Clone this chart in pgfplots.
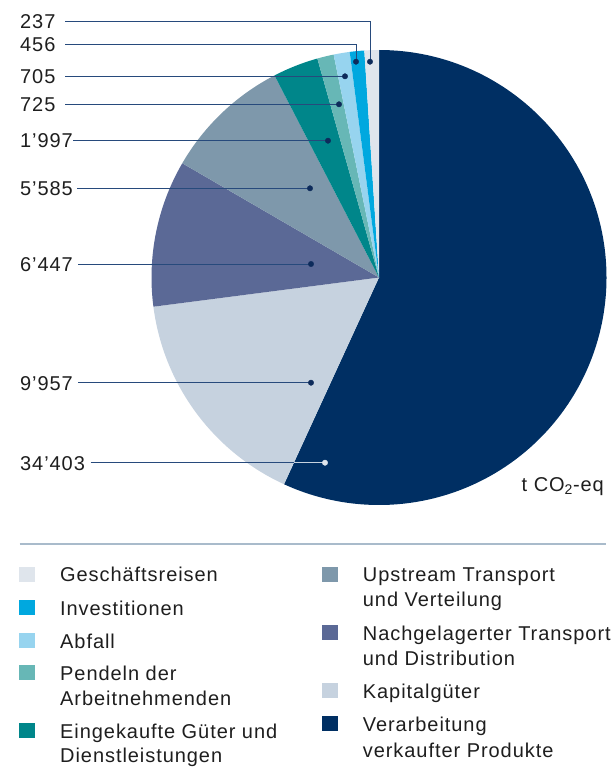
\documentclass[border=0pt]{standalone}
\usepackage{fontspec}
\setmainfont{Liberation Sans}[LetterSpace=4.7]
\usepackage{pgfplots}
\usepackage{pgfplotstable}
\pgfplotsset{compat=1.18}

\definecolor{cVer}{HTML}{002F63}
\definecolor{cKap}{HTML}{C6D2DF}
\definecolor{cNach}{HTML}{5B6996}
\definecolor{cUp}{HTML}{7E98AB}
\definecolor{cEin}{HTML}{00868A}
\definecolor{cPen}{HTML}{67B7B6}
\definecolor{cAbf}{HTML}{97D4EF}
\definecolor{cInv}{HTML}{00A8DF}
\definecolor{cGes}{HTML}{DFE5EC}
\definecolor{leader}{HTML}{274A7C}
\definecolor{dotc}{HTML}{0D2B5B}
\definecolor{rulec}{HTML}{A9BBCB}
\definecolor{txt}{HTML}{1E1E1E}

% emissions per category in t CO2-eq, clockwise from 12 o'clock
\pgfplotstableread{
value colour
34403 cVer
9957  cKap
6447  cNach
5585  cUp
1997  cEin
725   cPen
705   cAbf
456   cInv
237   cGes
}\piedata

% slice angles: tiny slices get at least \minang degrees, the room is taken
% from the mid-sized slices, the big first slice stays exact
\pgfplotstablegetrowsof{\piedata}
\pgfmathtruncatemacro\lastrow{\pgfplotsretval-1}
\def\pietotal{0}
\pgfplotsforeachungrouped \i in {0,...,\lastrow}{%
  \pgfplotstablegetelem{\i}{value}\of\piedata
  \edef\pietotal{\fpeval{\pietotal+\pgfplotsretval}}%
}
\def\minang{3.7}
\def\clampsum{0}\def\freesum{0}
\pgfplotsforeachungrouped \i in {1,...,\lastrow}{%
  \pgfplotstablegetelem{\i}{value}\of\piedata
  \edef\pshare{\fpeval{360*\pgfplotsretval/\pietotal}}%
  \edef\clampsum{\fpeval{\pshare<\minang ? \clampsum+\minang : \clampsum}}%
  \edef\freesum{\fpeval{\pshare<\minang ? \freesum : \freesum+\pshare}}%
}
\pgfplotstablegetelem{0}{value}\of\piedata
\edef\firstang{\fpeval{360*\pgfplotsretval/\pietotal}}
\edef\squeeze{\fpeval{(360-\firstang-\clampsum)/\freesum}}
\def\cur{90}
\pgfplotsforeachungrouped \i in {0,...,\lastrow}{%
  \pgfplotstablegetelem{\i}{value}\of\piedata
  \edef\pshare{\fpeval{360*\pgfplotsretval/\pietotal}}%
  \ifnum\i=0 \edef\sliceang{\pshare}\else
    \edef\sliceang{\fpeval{\pshare<\minang ? \minang : \pshare*\squeeze}}\fi
  \expandafter\edef\csname pieS\i\endcsname{\fpeval{round(\cur,4)}}%
  \edef\cur{\fpeval{\cur-\sliceang}}%
  \expandafter\edef\csname pieE\i\endcsname{\fpeval{round(\cur,4)}}%
  \pgfplotstablegetelem{\i}{colour}\of\piedata
  \colorlet{pie\i}{\pgfplotsretval}%
}

\begin{document}
\begin{tikzpicture}[every node/.style={font=\fontsize{20}{25}\selectfont, text=txt, inner sep=0pt}]
\begin{axis}[
  scale only axis, width=614pt, height=770pt,
  xmin=0, xmax=614, ymin=0, ymax=770, y dir=reverse,
  hide axis, clip=false,
  lead/.style={draw=leader, line width=0.9pt, mark=none},
]
\path (axis cs:0,0) rectangle (axis cs:614,770);

% pie
\pgfplotsinvokeforeach{0,...,\lastrow}{
  \fill[pie#1] (axis cs:379,277.5) -- ++({\csname pieS#1\endcsname}:227.5pt)
    arc[start angle=\csname pieS#1\endcsname, end angle=\csname pieE#1\endcsname, radius=227.5pt] -- cycle;
}

% leader lines
\addplot[lead] coordinates {(65,21.7) (370,21.7) (370,61.7)};
\addplot[lead] coordinates {(65,44.3) (356,44.3) (356,61.7)};
\addplot[lead] coordinates {(65,76.3) (345,76.3)};
\addplot[lead] coordinates {(65,104.3) (339,104.3)};
\addplot[lead] coordinates {(73,140.7) (328,140.7)};
\addplot[lead] coordinates {(77,188.3) (310,188.3)};
\addplot[lead] coordinates {(78,264) (311,264)};
\addplot[lead] coordinates {(78,382.7) (311,382.7)};
\addplot[lead] coordinates {(90.7,462.7) (294,462.7)};
\addplot[lead, draw=cKap] coordinates {(294,462.7) (325,462.7)};
\addplot[only marks, mark=*, mark size=2.7pt, dotc] coordinates {
  (370,61.7) (356,61.7) (345,76.3) (339,104.3) (328,140.7)
  (310,188.3) (311,264) (311,382.7)};
\addplot[only marks, mark=*, mark size=2.7pt, color=cGes] coordinates {(325,462.7)};

% value labels
\node[anchor=base west] at (axis cs:20,28.3) {237};
\node[anchor=base west] at (axis cs:20,51.7) {456};
\node[anchor=base west] at (axis cs:20,83.3) {705};
\node[anchor=base west] at (axis cs:20,111.7) {725};
\node[anchor=base west] at (axis cs:20,147.7) {1’997};
\node[anchor=base west] at (axis cs:20,195.7) {5’585};
\node[anchor=base west] at (axis cs:20,271.7) {6’447};
\node[anchor=base west] at (axis cs:20,390) {9’957};
\node[anchor=base west] at (axis cs:20,470) {34’403};
\node[anchor=base east] at (axis cs:604,491.7) {t CO\textsubscript{2}-eq};

% legend
\draw[rulec, line width=1.3pt] (axis cs:19.6,544) -- (axis cs:606,544);
\fill[cGes] (axis cs:18.5,566.7) rectangle (axis cs:35,581.7);
\fill[cInv] (axis cs:18.5,600) rectangle (axis cs:35,615);
\fill[cAbf] (axis cs:18.5,633) rectangle (axis cs:35,648);
\fill[cPen] (axis cs:18.5,665) rectangle (axis cs:35,680);
\fill[cEin] (axis cs:18.5,723) rectangle (axis cs:35,738);
\fill[cUp]  (axis cs:321.5,566.7) rectangle (axis cs:337.5,581.7);
\fill[cNach] (axis cs:321.5,625) rectangle (axis cs:337.5,640);
\fill[cKap] (axis cs:321.5,683) rectangle (axis cs:337.5,698);
\fill[cVer] (axis cs:321.5,716) rectangle (axis cs:337.5,731);

\node[anchor=base west] at (axis cs:60,581.7) {Geschäftsreisen};
\node[anchor=base west] at (axis cs:60,615) {Investitionen};
\node[anchor=base west] at (axis cs:60,648) {Abfall};
\node[anchor=base west] at (axis cs:60,680) {Pendeln der};
\node[anchor=base west] at (axis cs:60,705) {Arbeitnehmenden};
\node[anchor=base west] at (axis cs:60,738) {Eingekaufte Güter und};
\node[anchor=base west] at (axis cs:60,762) {Dienstleistungen};
\node[anchor=base west] at (axis cs:362.7,581.7) {Upstream Transport};
\node[anchor=base west] at (axis cs:362.7,606.7) {und Verteilung};
\node[anchor=base west] at (axis cs:362.7,640) {Nachgelagerter Transport};
\node[anchor=base west] at (axis cs:362.7,665) {und Distribution};
\node[anchor=base west] at (axis cs:362.7,698) {Kapitalgüter};
\node[anchor=base west] at (axis cs:362.7,731) {Verarbeitung};
\node[anchor=base west] at (axis cs:362.7,757) {verkaufter Produkte};
\end{axis}
\end{tikzpicture}
\end{document}
